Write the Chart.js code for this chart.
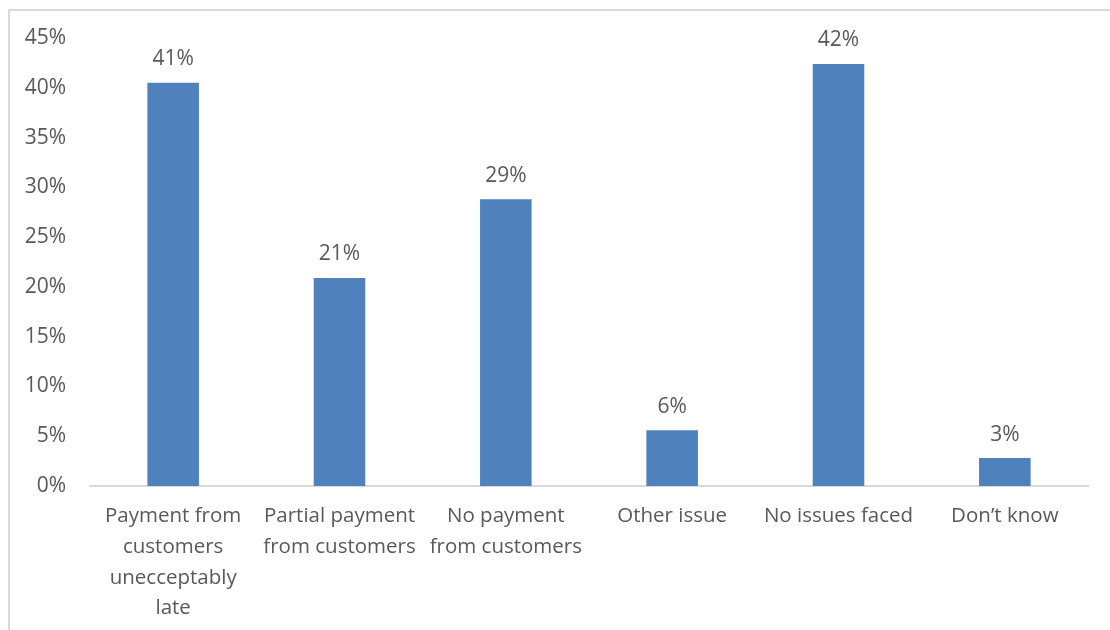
<!DOCTYPE html>
<html>
<head>
<meta charset="utf-8">
<script src="https://cdn.jsdelivr.net/npm/chart.js@4"></script>
<style>
  html, body { margin: 0; padding: 0; background: #fff; }
  #frame {
    position: absolute; left: 8px; top: 9px; width: 1102px; height: 621px;
    border-left: 2px solid #d9d9d9; border-top: 2px solid #d9d9d9;
  }
  #wrap { position: absolute; left: 0; top: 0; width: 1110px; height: 630px; }
</style>
</head>
<body>
<div id="frame"></div>
<div id="wrap"><canvas id="issuesChart" width="1110" height="630"></canvas></div>
<script>
// categories (wrapped into lines) and share of respondents, in percent
const categories = [
    ['Payment from', 'customers', 'unecceptably', 'late'],
    ['Partial payment', 'from customers'],
    ['No payment', 'from customers'],
    ['Other issue'],
    ['No issues faced'],
    ['Don\u2019t know']
];
const shares = [40.5, 20.9, 28.8, 5.6, 42.4, 2.8];
const yTicks = [0, 5, 10, 15, 20, 25, 30, 35, 40, 45];

const textColor = '#595959';
const fontFamily = '"Open Sans", "Noto Sans", sans-serif';

// writes the rounded percentage above each bar
const barLabels = {
    id: 'barLabels',
    afterDatasetsDraw(chart) {
        const ctx = chart.ctx;
        const meta = chart.getDatasetMeta(0);
        ctx.save();
        ctx.fillStyle = textColor;
        ctx.font = '21px ' + fontFamily;
        ctx.textAlign = 'center';
        ctx.textBaseline = 'bottom';
        meta.data.forEach((bar, i) => {
            ctx.fillText(Math.round(shares[i]) + '%', bar.x, bar.y - 13);
        });
        ctx.restore();
    }
};

const ctx = document.getElementById('issuesChart').getContext('2d');
const issuesChart = new Chart(ctx, {
    type: 'bar',
    data: {
        labels: categories,
        datasets: [{
            data: shares,
            backgroundColor: '#4f81bd',
            categoryPercentage: 1,
            barPercentage: 0.31
        }]
    },
    options: {
        responsive: false,
        animation: false,
        layout: { padding: { top: 38, right: 22, left: 0, bottom: 0 } },
        plugins: {
            legend: { display: false },
            tooltip: { enabled: false }
        },
        scales: {
            x: {
                grid: { display: false, drawTicks: false },
                border: { display: true, color: '#d9d9d9', width: 2 },
                ticks: {
                    color: textColor,
                    font: { family: fontFamily, size: 20.5, lineHeight: 1.5 },
                    padding: 15,
                    maxRotation: 0,
                    autoSkip: false
                },
                afterFit(scale) { scale.height = 144; }
            },
            y: {
                min: 0,
                max: 45,
                afterBuildTicks(scale) {
                    scale.ticks = yTicks.map(v => ({ value: v }));
                },
                grid: { display: false, drawTicks: false },
                border: { display: false },
                ticks: {
                    color: textColor,
                    font: { family: fontFamily, size: 21 },
                    padding: 24,
                    callback: v => v + '%'
                },
                afterFit(scale) { scale.width = 90; }
            }
        }
    },
    plugins: [barLabels]
});
</script>
</body>
</html>
